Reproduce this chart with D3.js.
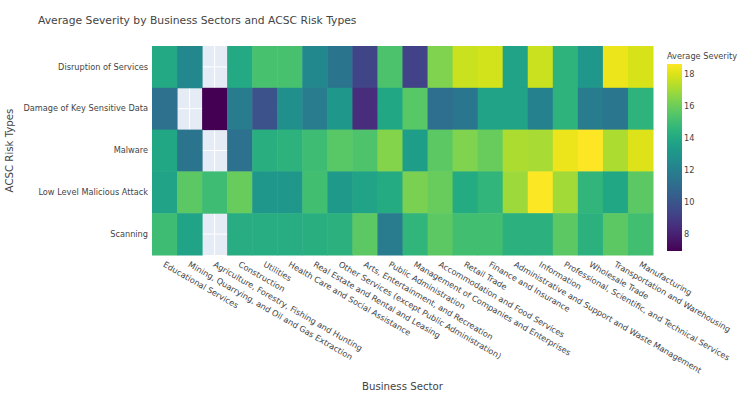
<!DOCTYPE html>
<html>
<head>
<meta charset="utf-8">
<script src="https://cdn.jsdelivr.net/npm/d3@7"></script>
<style>
  body { margin: 0; background: #fff; }
  svg { display: block; font-family: "DejaVu Sans", Verdana, sans-serif; }
</style>
</head>
<body>
<svg id="chart" width="750" height="396"></svg>
<script>
const sectors = [
  "Educational Services",
  "Mining, Quarrying, and Oil and Gas Extraction",
  "Agriculture, Forestry, Fishing and Hunting",
  "Construction",
  "Utilities",
  "Health Care and Social Assistance",
  "Real Estate and Rental and Leasing",
  "Other Services (except Public Administration)",
  "Arts, Entertainment, and Recreation",
  "Public Administration",
  "Management of Companies and Enterprises",
  "Accommodation and Food Services",
  "Retail Trade",
  "Finance and Insurance",
  "Administrative and Support and Waste Management",
  "Information",
  "Professional, Scientific, and Technical Services",
  "Wholesale Trade",
  "Transportation and Warehousing",
  "Manufacturing"
];
const riskTypes = [
  "Disruption of Services",
  "Damage of Key Sensitive Data",
  "Malware",
  "Low Level Malicious Attack",
  "Scanning"
];
const disruptionOfServices = [14.0, 12.4, null, 14.0, 15.25, 15.25, 12.4, 11.4, 9.3, 15.3, 9.2, 16.4, 17.7, 17.85, 13.7, 17.7, 14.5, 13.1, 18.3, 17.95];
const damageOfKeySensitiveData = [11.25, null, 6.9, 11.8, 9.85, 12.75, 11.8, 13.1, 8.4, 13.9, 15.6, 11.1, 11.5, 13.7, 13.7, 12.0, 14.5, 11.8, 11.5, 14.5];
const malware = [13.9, 11.4, null, 11.3, 14.3, 14.45, 15.0, 15.6, 15.35, 16.45, 13.4, 15.7, 16.4, 15.9, 17.2, 17.1, 18.3, 18.65, 17.2, 18.05];
const lowLevelMaliciousAttack = [13.7, 15.7, 15.0, 15.9, 13.1, 13.1, 15.1, 13.2, 13.7, 14.1, 16.3, 15.9, 14.1, 14.6, 16.95, 18.6, 17.0, 14.6, 13.9, 15.7];
const scanning = [15.0, 13.7, null, 14.2, 14.2, 14.2, 14.3, 14.4, 15.7, 11.8, 14.6, 15.7, 15.1, 15.1, 14.4, 14.4, 15.7, 14.4, 15.7, 15.1];
const colorbarTicks = [8, 10, 12, 14, 16, 18];

const seriesByRisk = [disruptionOfServices, damageOfKeySensitiveData, malware, lowLevelMaliciousAttack, scanning];
const cells = [];
riskTypes.forEach((r, i) => {
  seriesByRisk[i].forEach((v, j) => {
    if (v !== null) cells.push({ risk: r, sector: sectors[j], value: v });
  });
});

const svg = d3.select("#chart");
const margin = { left: 152, right: 97, top: 46, bottom: 141 };
const W = 750, H = 396;
const x0 = margin.left, x1 = W - margin.right;
const y0 = margin.top, y1 = H - margin.bottom;
const tickFont = "8.2px";

const x = d3.scaleBand().domain(sectors).range([x0, x1]).padding(0);
const y = d3.scaleBand().domain(riskTypes).range([y0, y1]).padding(0);
const ext = d3.extent(cells, d => d.value);
const color = d3.scaleSequential(d3.interpolateViridis).domain(ext);

// plot background
svg.append("rect").attr("x", x0).attr("y", y0).attr("width", x1 - x0).attr("height", y1 - y0).attr("fill", "#e5ecf6");

// grid lines at category centres
svg.append("g").selectAll("line.v").data(sectors).join("line")
  .attr("x1", d => x(d) + x.bandwidth() / 2).attr("x2", d => x(d) + x.bandwidth() / 2)
  .attr("y1", y0).attr("y2", y1).attr("stroke", "#fff").attr("stroke-width", 1);
svg.append("g").selectAll("line.h").data(riskTypes).join("line")
  .attr("y1", d => y(d) + y.bandwidth() / 2).attr("y2", d => y(d) + y.bandwidth() / 2)
  .attr("x1", x0).attr("x2", x1).attr("stroke", "#fff").attr("stroke-width", 1);

// cells
svg.append("g").selectAll("rect").data(cells).join("rect")
  .attr("x", d => x(d.sector)).attr("y", d => y(d.risk))
  .attr("width", x.bandwidth() + 0.5).attr("height", y.bandwidth() + 0.5)
  .attr("fill", d => color(d.value));

// x axis labels
const xAxis = d3.axisBottom(x).tickSize(0).tickPadding(0);
const gx = svg.append("g").attr("transform", `translate(0,${y1})`).call(xAxis);
gx.select(".domain").remove();
gx.selectAll("text")
  .attr("fill", "#444").attr("font-size", tickFont).attr("font-family", "DejaVu Sans, Verdana, sans-serif")
  .attr("text-anchor", "start")
  .attr("y", null)
  .attr("transform", "translate(1,6) rotate(30)")
  .attr("dy", "0.72em");

// y axis labels
const yAxis = d3.axisLeft(y).tickSize(0).tickPadding(4);
const gy = svg.append("g").attr("transform", `translate(${x0},0)`).call(yAxis);
gy.select(".domain").remove();
gy.selectAll("text").attr("fill", "#444").attr("font-size", tickFont).attr("font-family", "DejaVu Sans, Verdana, sans-serif");

// titles
svg.append("text").attr("x", 38).attr("y", 24).attr("fill", "#444").attr("font-size", "10.75px")
  .text("Average Severity by Business Sectors and ACSC Risk Types");
svg.append("text").attr("x", (x0 + x1) / 2).attr("y", 390).attr("text-anchor", "middle")
  .attr("fill", "#444").attr("font-size", "10.2px").text("Business Sector");
svg.append("text").attr("transform", `translate(13,${(y0 + y1) / 2}) rotate(-90)`).attr("text-anchor", "middle")
  .attr("fill", "#444").attr("font-size", "10.2px").text("ACSC Risk Types");

// colorbar
const cbX = 667, cbW = 15, cbTop = 64, cbBot = 251;
const cScale = d3.scaleLinear().domain(ext).range([cbBot, cbTop]);
const defs = svg.append("defs");
const grad = defs.append("linearGradient").attr("id", "cbgrad").attr("x1", 0).attr("y1", 1).attr("x2", 0).attr("y2", 0);
d3.range(0, 1.0001, 0.05).forEach(t => {
  grad.append("stop").attr("offset", t).attr("stop-color", d3.interpolateViridis(t));
});
svg.append("rect").attr("x", cbX).attr("y", cbTop).attr("width", cbW).attr("height", cbBot - cbTop).attr("fill", "url(#cbgrad)");
const cAxis = d3.axisRight(cScale).tickValues(colorbarTicks).tickSize(0).tickPadding(2);
const gc = svg.append("g").attr("transform", `translate(${cbX + cbW},0)`).call(cAxis);
gc.select(".domain").remove();
gc.selectAll("text").attr("fill", "#444").attr("font-size", tickFont).attr("font-family", "DejaVu Sans, Verdana, sans-serif");
svg.append("text").attr("x", cbX).attr("y", 59).attr("fill", "#444").attr("font-size", tickFont).text("Average Severity");
</script>
</body>
</html>
